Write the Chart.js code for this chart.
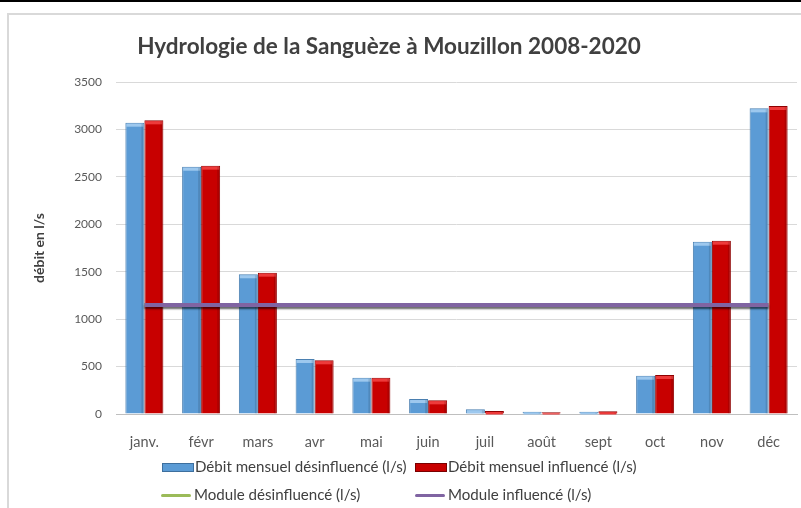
<!DOCTYPE html>
<html>
<head>
<meta charset="utf-8">
<script src="https://cdn.jsdelivr.net/npm/chart.js@4/dist/chart.umd.min.js"></script>
<style>
  body { margin: 0; background: #fff; font-family: Lato, "Liberation Sans", sans-serif; }
  #wrap { position: relative; width: 801px; height: 508px; overflow: hidden; }
  #topbar { position: absolute; left: 0; top: 0; width: 801px; height: 2px; background: #000; }
  #frame { position: absolute; left: 7px; top: 13px; width: 820px; height: 520px;
           border-left: 2px solid #d9d9d9; border-top: 2px solid #d9d9d9; pointer-events: none; }
  #title { position: absolute; left: 0; width: 778px; top: 32px; text-align: center;
           font-size: 22.5px; font-weight: bold; color: #404040; }
  .leg { position: absolute; font-size: 15.1px; color: #404040; white-space: nowrap; }
  .sw { position: absolute; }
</style>
</head>
<body>
<div id="wrap">
  <canvas id="myChart" width="801" height="508"></canvas>
  <div id="topbar"></div>
  <div id="frame"></div>
  <div id="title">Hydrologie de la Sanguèze à Mouzillon 2008-2020</div>
  <div id="legend"></div>
</div>
<script>
const months = ["janv.", "févr", "mars", "avr", "mai", "juin", "juil", "août", "sept", "oct", "nov", "déc"];
const debitDesinfluence = [3071, 2607, 1473, 580, 383, 158, 50, 25, 25, 404, 1816, 3222];
const debitInfluence = [3096, 2618, 1490, 566, 383, 144, 32, 18, 28, 411, 1827, 3247];
const moduleDesinfluence = [1150, 1150, 1150, 1150, 1150, 1150, 1150, 1150, 1150, 1150, 1150, 1150];
const moduleInfluence = [1150, 1150, 1150, 1150, 1150, 1150, 1150, 1150, 1150, 1150, 1150, 1150];
const seriesNames = ["Débit mensuel désinfluencé (l/s)", "Débit mensuel influencé (l/s)",
                     "Module désinfluencé (l/s)", "Module influencé (l/s)"];
const yTicks = [0, 500, 1000, 1500, 2000, 2500, 3000, 3500];

// light top edge and shaded side on the bars, like the Excel bevel;
// soft shadow under the module lines
const effects = {
    id: "effects",
    beforeDatasetDraw(chart, args) {
        const ds = chart.data.datasets[args.index];
        if (ds.type !== "line") return;
        const c = chart.ctx;
        c.save();
        c.shadowColor = "rgba(0,0,0,0.35)";
        c.shadowOffsetY = 2;
        c.shadowBlur = 2;
    },
    afterDatasetDraw(chart, args) {
        const ds = chart.data.datasets[args.index];
        const c = chart.ctx;
        if (ds.type === "line") { c.restore(); return; }
        c.save();
        args.meta.data.forEach(function (b) {
            const left = b.x - b.width / 2;
            const h = b.base - b.y;
            c.fillStyle = ds.topColor;
            c.fillRect(left + 1, b.y + 1, b.width - 2, Math.min(3, h));
            c.fillStyle = "rgba(0,0,0,0.12)";
            c.fillRect(left + b.width - 3, b.y + 1, 2, h - 1);
        });
        c.restore();
    }
};

new Chart("myChart", {
    data: {
        labels: months,
        datasets: [{
            type: "line",
            label: seriesNames[2],
            data: moduleDesinfluence,
            borderColor: "#9bbb59",
            borderWidth: 4,
            pointRadius: 0,
            order: 1
        }, {
            type: "line",
            label: seriesNames[3],
            data: moduleInfluence,
            borderColor: "#8064a2",
            borderWidth: 4,
            pointRadius: 0,
            order: 0
        }, {
            type: "bar",
            label: seriesNames[0],
            data: debitDesinfluence,
            backgroundColor: "#5b9bd5",
            borderColor: "#4a7fb0",
            borderWidth: 1,
            topColor: "#9dc8ee",
            categoryPercentage: 0.67,
            barPercentage: 1,
            order: 2
        }, {
            type: "bar",
            label: seriesNames[1],
            data: debitInfluence,
            backgroundColor: "#c80000",
            borderColor: "#8e0000",
            borderWidth: 1,
            topColor: "#ee3a3a",
            categoryPercentage: 0.67,
            barPercentage: 1,
            order: 2
        }]
    },
    options: {
        responsive: false,
        animation: false,
        layout: { padding: { top: 82, right: 4, left: 0, bottom: 0 } },
        plugins: {
            legend: { display: false },
            title: { display: false },
            tooltip: { enabled: false }
        },
        scales: {
            x: {
                grid: { display: false },
                border: { display: true, color: "#bfbfbf", width: 1 },
                ticks: { color: "#595959", font: { family: "Lato", size: 14.5 }, padding: 12, maxRotation: 0 },
                afterFit(s) { s.height = 94; }
            },
            y: {
                min: 0,
                max: 3500,
                afterBuildTicks(s) { s.ticks = yTicks.map(v => ({ value: v })); },
                grid: { color: "#d9d9d9", drawTicks: false },
                border: { display: false },
                ticks: {
                    color: "#595959",
                    font: { family: "Lato", size: 12 },
                    padding: 14,
                    callback: v => String(v)
                },
                title: {
                    display: true,
                    text: "débit en l/s",
                    color: "#404040",
                    font: { family: "Lato", size: 14, weight: "bold" },
                    padding: { top: 31, bottom: 0 }
                },
                afterFit(s) { s.width = 116; }
            }
        }
    },
    plugins: [effects]
});

// legend laid out as a 2 x 2 grid, like the reference
const legendItems = [
    { text: seriesNames[0], x: 162, y: 457, kind: "box", color: "#5b9bd5", edge: "#3d6f9e" },
    { text: seriesNames[1], x: 415, y: 457, kind: "box", color: "#c80000", edge: "#7a0000" },
    { text: seriesNames[2], x: 161, y: 485, kind: "line", color: "#9bbb59" },
    { text: seriesNames[3], x: 415, y: 485, kind: "line", color: "#8064a2" }
];
const legend = document.getElementById("legend");
legendItems.forEach(function (it) {
    const sw = document.createElement("div");
    sw.className = "sw";
    sw.style.left = it.x + "px";
    sw.style.width = "30px";
    sw.style.background = it.color;
    if (it.kind === "box") {
        sw.style.top = (it.y + 6) + "px";
        sw.style.height = "7px";
        sw.style.border = "1px solid " + it.edge;
    } else {
        sw.style.top = (it.y + 9) + "px";
        sw.style.height = "3px";
        sw.style.borderRadius = "2px";
    }
    legend.appendChild(sw);
    const t = document.createElement("div");
    t.className = "leg";
    t.style.left = (it.x + 33) + "px";
    t.style.top = it.y + "px";
    t.textContent = it.text;
    legend.appendChild(t);
});
</script>
</body>
</html>
